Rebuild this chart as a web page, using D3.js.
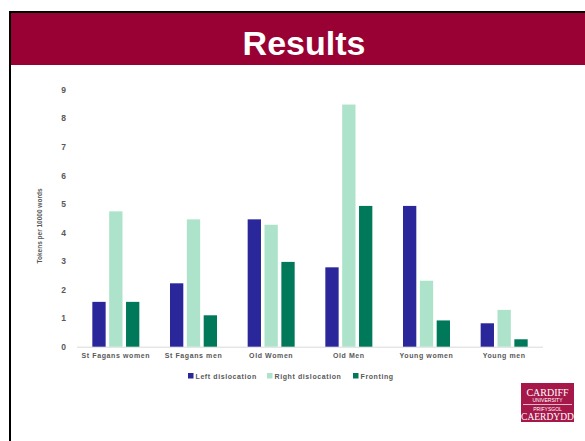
<!DOCTYPE html>
<html><head><meta charset="utf-8">
<script src="https://cdn.jsdelivr.net/npm/d3@7"></script>
<style>body{margin:0;background:#fff;}svg{display:block;}</style>
</head><body>
<svg id="c" width="585" height="441"></svg>
<script>
const categories = ["St Fagans women","St Fagans men","Old Women","Old Men","Young women","Young men"];
const seriesNames = ["Left dislocation","Right dislocation","Fronting"];
const leftDislocation = [1.57,2.22,4.46,2.78,4.93,0.82];
const rightDislocation = [4.74,4.46,4.27,8.48,2.31,1.29];
const fronting = [1.57,1.10,2.97,4.93,0.92,0.26];
const yTicks = [0,1,2,3,4,5,6,7,8,9];
const colors = ["#29279a","#ade3ca","#00795a"];

const series = [leftDislocation, rightDislocation, fronting];
const svg = d3.select("#c");

// slide frame
svg.append("rect").attr("x",9).attr("y",11).attr("width",576).attr("height",2).attr("fill","#000");
svg.append("rect").attr("x",9).attr("y",11).attr("width",2).attr("height",430).attr("fill","#000");
svg.append("rect").attr("x",11).attr("y",13).attr("width",574).attr("height",52).attr("fill","#990033");
svg.append("text").attr("x",304).attr("y",55).attr("text-anchor","middle")
  .attr("font-family","Liberation Sans, Arial, sans-serif").attr("font-weight","bold")
  .attr("font-size",34).attr("fill","#fff").text("Results");

const x0 = d3.scaleBand().domain(categories).range([77,543]).paddingInner(0).paddingOuter(0);
const y = d3.scaleLinear().domain([0,9]).range([346.7,89.7]);
const x1 = d3.scaleBand().domain(seriesNames).range([0,x0.bandwidth()]).paddingInner(0.21).paddingOuter(0.91);

const font = "Liberation Sans, Arial, sans-serif";
// baseline
svg.append("line").attr("x1",77).attr("x2",543).attr("y1",y(0)+0.5).attr("y2",y(0)+0.5)
  .attr("stroke","#d9d9d9").attr("stroke-width",1);

// y axis
const yAxis = d3.axisLeft(y).tickValues(yTicks).tickSize(0).tickPadding(0).tickFormat(d3.format("d"));
const ga = svg.append("g").attr("transform","translate(66,0)").call(yAxis);
ga.select(".domain").remove();
ga.selectAll("text").attr("font-family",font).attr("font-weight","bold").attr("font-size",8.5).attr("fill","#595959");

// bars
categories.forEach((c,i)=>{
  series.forEach((s,j)=>{
    svg.append("rect").attr("x",x0(c)+x1(seriesNames[j])).attr("y",y(s[i]))
      .attr("width",x1.bandwidth()).attr("height",y(0)-y(s[i])).attr("fill",colors[j]);
  });
});

// x axis labels
const xAxis = d3.axisBottom(x0).tickSize(0).tickPadding(6);
const gx = svg.append("g").attr("transform",`translate(0,${y(0)})`).call(xAxis);
gx.select(".domain").remove();
gx.selectAll("text").attr("font-family",font).attr("font-weight","bold").attr("font-size",7)
  .attr("letter-spacing",0.6).attr("fill","#595959");

// y title
svg.append("text").attr("transform","translate(42,226) rotate(-90)").attr("text-anchor","middle")
  .attr("font-family",font).attr("font-weight","bold").attr("font-size",6.5).attr("fill","#595959")
  .text("Tokens per 10000 words");

// legend
const legX = [188,267,353];
seriesNames.forEach((n,j)=>{
  svg.append("rect").attr("x",legX[j]).attr("y",373).attr("width",5.5).attr("height",5.5).attr("fill",colors[j]);
  svg.append("text").attr("x",legX[j]+7.5).attr("y",378.5).attr("font-family",font).attr("font-weight","bold")
    .attr("font-size",7).attr("letter-spacing",0.6).attr("fill","#595959").text(n);
});

// logo
const lg = svg.append("g");
lg.append("rect").attr("x",521).attr("y",383).attr("width",53).attr("height",39).attr("fill","#a6174a");
lg.append("line").attr("x1",523).attr("x2",572).attr("y1",404.5).attr("y2",404.5).attr("stroke","#fff").attr("stroke-width",0.7);
lg.append("text").attr("x",547.5).attr("y",395.5).attr("text-anchor","middle").attr("font-family","Liberation Serif, serif")
  .attr("font-size",10).attr("fill","#fff").text("CARDIFF");
lg.append("text").attr("x",547.5).attr("y",402).attr("text-anchor","middle").attr("font-family","Liberation Sans, sans-serif")
  .attr("font-size",5).attr("fill","#fff").text("UNIVERSITY");
lg.append("text").attr("x",547.5).attr("y",411).attr("text-anchor","middle").attr("font-family","Liberation Sans, sans-serif")
  .attr("font-size",5).attr("fill","#fff").text("PRIFYSGOL");
lg.append("text").attr("x",547.5).attr("y",420).attr("text-anchor","middle").attr("font-family","Liberation Serif, serif")
  .attr("font-size",9.5).attr("fill","#fff").text("CAERDYDD");
</script>
</body></html>
